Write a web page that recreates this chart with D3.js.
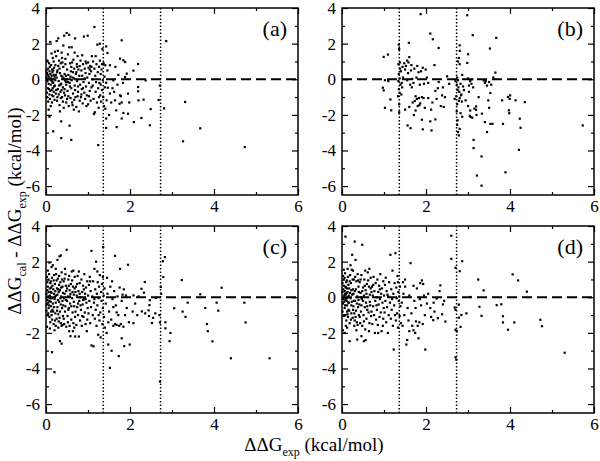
<!DOCTYPE html>
<html>
<head>
<meta charset="utf-8">
<script src="https://cdn.jsdelivr.net/npm/d3@7"></script>
<style>
  body { margin: 0; background: #fff; }
  svg { display: block; }
  svg text { font-family: 'Liberation Serif', 'Times New Roman', Times, 'DejaVu Serif', serif; fill: #000; }
</style>
</head>
<body>
<div id="chart"></div>
<script>
// tick values and reference lines
const xTicks = [0, 2, 4, 6];
const xMinor = [1, 3, 5];
const yTicks = [-6, -4, -2, 0, 2, 4];
const yMinor = [-5, -3, -1, 1, 3];
const refLines = [1.364, 2.728];
const panelLabels = ['(a)', '(b)', '(c)', '(d)'];

// [ΔΔG_exp, ΔΔG_cal - ΔΔG_exp]
const pointsA = [
  [0.02,0.35],[0.03,-0.1],[0.05,0.6],[0.04,-0.5],[0.06,0.15],[0.08,-0.85],[0.07,0.9],[0.1,0.3],[0.11,-0.3],[0.09,-1.1],
  [0.12,0.05],[0.13,-0.6],[0.14,0.55],[0.15,-0.15],[0.16,1.2],[0.17,-0.95],[0.18,0.25],[0.19,-0.4],[0.02,-0.75],[0.01,0.1],
  [0.05,-1.25],[0.06,-0.25],[0.08,0.45],[0.1,-0.65],[0.12,0.8],[0.14,-1.3],[0.16,0.0],[0.18,-0.7],[0.03,1.05],[0.04,0.25],
  [0.09,0.7],[0.11,-1.5],[0.13,1.45],[0.15,0.4],[0.17,-0.2],[0.19,0.65],[0.02,-1.0],[0.07,-0.55],[0.1,2.1],[0.12,-0.05],
  [0.14,-0.9],[0.18,1.0],[0.06,-1.7],[0.16,-0.5],[0.2,-1.15],[0.01,0.5],[0.08,0.05],[0.13,0.2],[0.17,0.5],[0.2,0.15],
  [0.21,-0.35],[0.22,0.8],[0.23,-0.8],[0.24,1.3],[0.25,0.1],[0.26,-1.2],[0.27,0.5],[0.28,-0.55],[0.29,2.3],[0.3,-0.1],
  [0.31,1.05],[0.32,-1.45],[0.33,0.35],[0.34,-0.7],[0.35,0.9],[0.36,-0.25],[0.37,1.5],[0.38,-1.0],[0.39,0.15],[0.4,-0.45],
  [0.41,0.7],[0.42,-1.6],[0.43,2.45],[0.44,0.3],[0.45,-0.9],[0.46,1.15],[0.47,-0.15],[0.48,-1.3],[0.49,2.6],[0.5,0.55],
  [0.22,-0.05],[0.24,-0.6],[0.26,0.4],[0.28,1.6],[0.3,-0.85],[0.32,0.6],[0.34,-0.3],[0.36,0.2],[0.38,1.2],[0.4,-1.25],
  [0.42,0.05],[0.44,-0.55],[0.46,0.85],[0.48,-0.3],[0.23,0.25],[0.27,-1.0],[0.31,-0.35],[0.35,-1.05],[0.39,0.95],[0.43,-0.75],
  [0.47,0.2],[0.25,2.15],[0.33,-1.8],[0.37,-0.6],[0.41,1.9],[0.45,-0.05],[0.29,0.75],[0.21,1.55],[0.5,-1.1],[0.49,0.0],
  [0.51,-0.65],[0.52,1.4],[0.53,0.25],[0.54,-1.5],[0.55,2.5],[0.56,-0.2],[0.57,0.9],[0.58,-1.05],[0.59,0.45],[0.6,-0.5],
  [0.61,1.8],[0.62,-1.3],[0.63,0.1],[0.64,-0.8],[0.65,1.1],[0.66,-1.7],[0.67,0.6],[0.68,-0.35],[0.69,2.3],[0.7,-1.0],
  [0.71,0.3],[0.72,-1.55],[0.73,0.85],[0.74,-0.1],[0.75,1.3],[0.76,-0.7],[0.77,0.55],[0.78,-1.8],[0.79,0.2],[0.8,-1.2],
  [0.53,-0.95],[0.57,-0.4],[0.6,0.7],[0.63,-1.45],[0.66,0.05],[0.69,-0.6],[0.72,0.4],[0.75,-0.95],[0.55,1.8],[0.62,0.95],
  [0.68,1.5],[0.74,0.7],[0.52,-0.15],[0.58,0.15],[0.64,0.4],[0.7,0.0],[0.76,-0.4],[0.8,0.75],[0.61,-0.05],[0.67,-1.15],
  [0.81,-0.3],[0.82,1.05],[0.83,-1.0],[0.84,0.5],[0.85,-0.55],[0.86,0.2],[0.87,-1.35],[0.88,0.85],[0.89,-0.15],[0.9,2.4],
  [0.91,-0.75],[0.92,0.6],[0.93,-1.1],[0.94,0.35],[0.95,-0.4],[0.96,0.9],[0.97,-0.9],[0.98,0.1],[0.99,2.45],[1.0,-1.4],
  [1.01,0.65],[1.02,-0.2],[1.03,0.3],[1.04,-0.65],[1.05,0.75],[1.06,-1.2],[1.07,0.45],[1.08,-0.45],[1.09,1.3],[1.1,0.0],
  [0.84,-0.85],[0.88,-0.5],[0.92,0.05],[0.96,-1.5],[1.0,0.95],[1.04,0.55],[0.86,1.35],[0.94,1.0],[1.02,-0.95],[1.08,0.7],
  [1.11,-0.35],[1.12,1.0],[1.13,-1.1],[1.15,0.6],[1.16,-1.85],[1.17,0.2],[1.18,-0.7],[1.2,0.85],[1.21,-1.3],[1.22,1.95],
  [1.23,0.4],[1.24,-0.5],[1.25,-1.6],[1.26,0.7],[1.27,-0.2],[1.28,1.05],[1.29,-0.9],[1.3,0.3],[1.31,-1.25],[1.32,0.55],
  [1.33,-0.6],[1.34,1.7],[1.35,-0.05],[1.36,-1.0],[1.37,0.9],[1.38,-1.5],[1.39,0.15],[1.14,-1.95],[1.19,-0.15],[1.26,-1.0],
  [1.3,-0.3],[1.33,0.85],[1.18,1.3],[1.28,2.0],[1.4,-0.45],[1.15,2.94],
  [1.41,0.79],[1.43,1.85],[1.46,1.48],[1.46,0.5],[1.43,-0.19],[1.47,-0.47],[1.44,-1.18],[1.41,-1.65],[1.43,-2.2],[1.52,0.79],
  [1.6,-0.06],[1.64,-1.18],[1.67,-1.74],[1.75,-1.37],[1.76,-0.9],[1.76,1.16],[1.84,1.07],[1.88,0.97],[1.88,0.13],[1.92,0.32],
  [1.84,-1.89],[1.52,-0.8],[1.58,-0.5],[1.55,-1.3],[1.62,-0.7],[1.7,-0.3],[1.78,-0.95],[1.8,-1.3],[1.72,0.25],[1.95,-0.8],
  [1.5,-2.0],[1.65,0.7],[1.83,-0.2],[1.98,-1.3],
  [2.86,2.15],[3.31,-1.27],[3.67,-2.75],[3.26,-3.48],[4.73,-3.8],[0.56,-2.6],[0.36,-2.36],[0.36,-3.3],[0.6,-3.4],[0.17,-2.92],
  [0.08,-2.1],[1.24,-3.69],[1.43,-2.73],[2.81,-1.63],[2.68,-1.16],[2.47,-2.58],[2.27,-2.17],[2.09,-2.4],[2.49,-1.67],[2.2,-1.18],
  [2.32,-1.14],[2.37,-0.06],[2.19,0.86],[2.19,-0.43],[2.19,-0.67],[2.08,0.49],[1.95,-1.93],[1.8,-2.2],[1.8,2.19],[1.68,-2.68],
  [2.71,-0.35]
];

const pointsB = [
  [0.99,1.26],[1.09,1.39],[0.97,-0.47],[0.99,-0.62],[1.02,-1.6],[1.15,-1.13],[1.17,-1.74],[1.02,-0.05],[1.1,-0.1],
  [1.35,1.95],[1.36,1.7],[1.34,0.85],[1.38,0.6],[1.35,0.3],[1.37,0.05],[1.34,-0.1],[1.39,-0.3],[1.35,-0.55],[1.37,-0.75],
  [1.33,-0.95],[1.36,-1.4],[1.38,0.95],[1.4,0.45],[1.42,-0.2],[1.41,-0.85],[1.44,0.7],[1.36,-1.85],[1.45,0.1],[1.43,-0.45],
  [1.48,0.9],[1.5,0.55],[1.52,0.75],[1.55,-0.05],[1.57,0.35],[1.59,2.05],[1.6,1.25],[1.62,-0.3],[1.64,0.5],[1.65,0.8],
  [1.67,0.02],[1.7,-0.2],[1.72,0.6],[1.73,-1.22],[1.75,-0.95],[1.77,0.1],[1.78,-1.1],[1.8,-1.5],[1.82,0.4],[1.85,-0.3],
  [1.86,-1.35],[1.88,0.45],[1.9,-1.0],[1.92,0.65],[1.95,-0.25],[1.97,-1.6],[1.56,-2.59],[1.63,-2.74],[1.9,-2.27],[1.92,-2.81],
  [1.5,-1.7],[1.6,-1.55],[1.68,-1.3],[1.75,-1.75],[1.83,-1.05],[1.58,0.95],[1.66,-0.45],[1.71,-2.0],[1.87,3.66],[1.79,0.75],
  [1.55,1.05],[1.84,-1.45],[1.94,-1.05],[1.99,0.55],
  [2.1,2.57],[2.16,2.25],[2.3,1.76],[2.2,0.8],[2.05,-0.2],[2.1,-2.36],[2.13,-2.87],[2.22,-2.25],[2.15,-1.3],[2.25,-1.1],
  [2.05,-1.05],[2.28,-0.5],[2.35,-1.5],[2.4,-0.45],[2.42,-1.55],[2.5,0.17],[2.45,-1.0],[2.12,-1.7],[2.3,-0.15],[2.55,-0.25],
  [2.38,-0.9],[2.22,-0.65],[2.02,0.1],
  [2.8,1.91],[2.8,1.6],[2.78,1.2],[2.76,1.0],[2.8,0.85],[2.74,0.1],[2.76,-0.05],[2.73,-0.3],[2.77,-0.45],[2.75,-0.6],
  [2.79,-0.7],[2.72,-0.95],[2.78,-1.2],[2.74,-1.4],[2.8,-1.05],[2.83,-0.9],[2.85,-1.25],[2.73,-1.8],[2.75,-2.3],[2.74,-2.55],
  [2.76,-2.96],[2.78,-3.15],[2.8,-2.78],[2.82,-1.9],[2.86,-2.1],[2.88,-0.4],[2.9,-0.6],[2.7,-0.1],[2.82,-0.25],[2.68,-1.1],
  [2.86,0.25],[2.84,-0.85],
  [2.98,3.6],[3.11,2.48],[2.98,0.92],[3.0,1.41],[3.0,0.05],[3.05,-0.1],[3.08,-0.25],[3.1,0.0],[2.94,-1.18],[3.0,-1.5],
  [3.04,-2.05],[3.06,-2.12],[3.1,-2.15],[3.02,-0.7],[3.05,-1.75],[3.15,-1.65],[3.19,-1.52],[3.19,-1.71],[3.12,-0.45],[3.13,-3.4],
  [3.13,-3.86],[3.21,-5.4],[3.32,-5.97],[3.32,-4.33],[3.33,-1.93],[3.25,-1.0],[3.37,-0.06],[3.4,-0.2],[3.45,-0.35],[3.5,-0.15],
  [3.55,-0.3],[3.42,-0.1],[3.52,1.73],[3.67,2.33],[3.65,0.38],[3.6,0.1],[3.45,-2.96],[3.53,-2.5],[3.58,-2.5],[3.48,-1.18],
  [3.53,-0.77],[3.5,-1.6],[3.4,-2.4],[3.2,-2.0],[3.02,-0.35],
  [3.81,-1.18],[3.83,-2.5],[3.95,-0.99],[3.99,-1.1],[3.97,-1.74],[3.98,-1.9],[4.13,-1.18],[4.21,-3.96],[4.23,-2.21],[4.25,-2.72],
  [4.35,-1.28],[3.89,-5.22],[5.73,-2.59],[4.0,-0.9]
];

const pointsC = [
  [0.01,0.2],[0.02,-0.4],[0.03,0.85],[0.04,-1.0],[0.05,0.05],[0.06,-0.6],[0.07,1.3],[0.08,-0.2],[0.09,0.5],[0.1,-1.4],
  [0.11,0.3],[0.12,-0.8],[0.13,1.7],[0.14,-0.05],[0.15,0.65],[0.02,-1.65],[0.03,0.4],[0.05,-0.3],[0.06,1.0],[0.08,-1.1],
  [0.09,0.1],[0.1,0.8],[0.12,-0.5],[0.13,0.25],[0.14,-1.25],[0.01,-0.75],[0.04,0.6],[0.07,-0.45],[0.08,1.95],[0.11,-0.25],
  [0.15,-0.7],[0.02,1.15],[0.05,-0.9],[0.09,-1.75],[0.12,0.55],[0.14,1.1],[0.03,-0.15],[0.06,0.3],[0.1,-0.05],[0.13,-1.0],
  [0.08,2.89],[0.14,-3.08],[0.2,-4.2],[0.04,1.5],[0.11,0.9],
  [0.16,-0.35],[0.17,0.45],[0.18,-1.5],[0.19,1.25],[0.2,-0.1],[0.21,0.75],[0.22,-0.9],[0.23,1.6],[0.24,0.1],[0.25,-1.2],
  [0.26,0.5],[0.27,-0.55],[0.28,1.05],[0.29,-1.7],[0.3,0.3],[0.31,-0.25],[0.32,2.3],[0.33,-0.8],[0.34,0.85],[0.35,-1.45],
  [0.36,0.05],[0.37,1.4],[0.38,-0.6],[0.39,0.6],[0.4,-1.05],[0.17,-0.8],[0.19,0.2],[0.21,-1.3],[0.23,-0.3],[0.25,0.95],
  [0.27,0.15],[0.29,-0.95],[0.31,1.2],[0.33,0.4],[0.35,-0.4],[0.37,-1.6],[0.39,-0.2],[0.18,0.95],[0.22,0.35],[0.26,-0.75],
  [0.3,-1.35],[0.34,-0.05],[0.38,1.0],[0.2,-1.85],[0.24,1.3],[0.28,-0.15],[0.32,-1.15],[0.36,0.55],[0.4,0.25],[0.33,-2.46],
  [0.37,-2.6],[0.16,1.8],[0.19,-0.55],[0.27,2.1],[0.35,2.35],[0.23,-1.6],[0.31,0.7],[0.39,-1.55],[0.21,0.05],[0.29,0.45],
  [0.41,-0.45],[0.42,0.9],[0.43,-1.5],[0.44,0.2],[0.45,-0.8],[0.46,1.3],[0.47,-0.15],[0.48,-1.65],[0.49,2.67],[0.5,0.5],
  [0.51,-1.05],[0.52,0.05],[0.53,1.0],[0.54,-0.6],[0.55,-1.9],[0.56,0.4],[0.57,-0.35],[0.58,-2.18],[0.59,0.75],[0.6,-1.25],
  [0.61,1.45],[0.62,-0.05],[0.63,-0.85],[0.64,0.6],[0.65,-1.45],[0.66,0.15],[0.67,-0.5],[0.68,1.15],[0.69,-1.1],[0.7,0.3],
  [0.42,-1.2],[0.44,1.05],[0.46,-0.5],[0.48,0.35],[0.5,-0.2],[0.52,-1.4],[0.54,0.65],[0.56,-1.6],[0.58,0.2],[0.6,-0.5],
  [0.62,0.95],[0.64,-1.9],[0.66,-0.25],[0.68,0.5],[0.7,-0.8],[0.45,1.6],[0.55,1.2],[0.65,1.5],[0.47,0.65],[0.57,0.05],
  [0.67,-1.7],[0.43,-0.05],[0.53,-0.7],[0.63,0.3],[0.69,-2.2],
  [0.71,0.6],[0.72,-1.55],[0.73,0.1],[0.74,-0.55],[0.75,1.2],[0.76,-1.0],[0.77,0.35],[0.78,-2.2],[0.79,-0.2],[0.8,0.8],
  [0.81,-1.3],[0.82,0.0],[0.83,-0.7],[0.84,1.0],[0.85,-1.6],[0.86,0.3],[0.87,-0.4],[0.88,0.65],[0.89,-1.1],[0.9,-0.1],
  [0.91,1.3],[0.92,-0.85],[0.93,0.2],[0.94,-1.5],[0.95,0.55],[0.96,-0.3],[0.97,-1.9],[0.98,0.9],[0.99,-0.6],[1.0,0.1],
  [0.74,0.75],[0.78,1.45],[0.82,-0.45],[0.86,-1.05],[0.9,0.45],[0.94,-0.1],[0.98,-1.25],[0.76,-0.35],[0.8,0.2],[0.88,-0.15],
  [1.01,-0.9],[1.02,0.7],[1.03,-0.2],[1.04,1.15],[1.05,-1.45],[1.06,0.35],[1.07,-0.55],[1.08,2.61],[1.08,-2.7],[1.1,0.05],
  [1.11,-1.0],[1.12,0.9],[1.13,-2.75],[1.14,-0.3],[1.15,1.6],[1.16,-1.2],[1.17,0.45],[1.18,-0.7],[1.19,2.0],[1.2,-1.6],
  [1.21,0.2],[1.22,-0.45],[1.23,0.85],[1.24,-2.1],[1.25,-0.05],[1.26,0.6],[1.27,-1.3],[1.28,1.25],[1.29,-0.85],[1.3,-2.25],
  [1.31,0.3],[1.32,-0.2],[1.33,0.75],[1.34,-1.5],[1.35,-0.6],[1.36,2.82],[1.37,0.1],[1.38,-1.1],[1.39,0.5],[1.4,-1.7],
  [1.05,0.9],[1.15,-0.1],[1.25,-1.0],[1.35,1.15],[1.22,1.45],
  [1.42,-0.35],[1.44,-2.0],[1.46,0.2],[1.48,-2.65],[1.5,-0.8],[1.52,-3.96],[1.53,0.6],[1.55,-1.25],[1.56,-3.0],[1.58,-0.1],
  [1.6,-1.6],[1.62,0.35],[1.64,2.33],[1.64,-1.5],[1.66,-0.45],[1.68,-1.55],[1.7,0.05],[1.72,-1.0],[1.73,-3.3],[1.74,-1.6],
  [1.76,1.6],[1.78,-1.5],[1.8,-0.2],[1.82,0.15],[1.84,-1.65],[1.86,-2.74],[1.88,-1.0],[1.9,0.1],[1.92,-0.6],[1.95,1.83],
  [1.97,-1.4],[1.99,-2.65],[1.45,1.1],[1.57,0.9],[1.68,-0.85],[1.8,-2.3],[1.85,0.45],[1.48,-1.4],[1.6,-0.55],[1.75,0.55],
  [2.08,0.11],[2.06,-0.8],[2.08,-1.45],[2.17,-1.0],[2.28,-0.79],[2.36,-0.9],[2.45,-1.05],[2.6,-0.9],[2.7,-1.0],[2.27,0.48],
  [2.33,0.26],[2.35,0.86],[2.47,-0.16],[2.46,-0.44],[2.44,-0.73],[2.52,-1.44],[2.61,-0.03],[2.71,-1.41],[2.84,-1.4],[2.84,-1.74],
  [2.96,-2.0],[2.71,-4.73],[2.83,2.26],[2.78,2.03],[2.79,1.14],[2.73,0.58],[2.74,0.2],[3.05,-0.61],[3.25,-0.8],[3.32,-1.1],
  [3.37,-0.3],[3.23,0.97],[3.67,0.17],[3.79,-0.6],[3.83,-1.5],[3.85,-1.9],[3.96,-2.47],[4.06,-0.3],[4.1,-0.75],[4.18,0.54],
  [4.4,-3.42],[4.72,-0.3],[4.75,-1.41],[5.32,-3.42],[2.94,-2.46],[2.2,0.05],[2.12,-0.35],[2.55,-1.15]
];

const pointsD = [
  [0.01,0.3],[0.02,-0.35],[0.03,1.0],[0.04,-1.05],[0.05,0.1],[0.06,-0.6],[0.07,1.35],[0.08,-0.15],[0.09,0.55],[0.1,-1.3],
  [0.11,0.25],[0.12,-0.8],[0.13,1.6],[0.14,0.0],[0.15,0.7],[0.02,-1.85],[0.03,0.45],[0.05,-0.25],[0.06,1.1],[0.08,-1.0],
  [0.09,0.15],[0.1,0.85],[0.12,-0.45],[0.13,0.3],[0.14,-1.1],[0.01,-0.8],[0.04,0.65],[0.07,-0.45],[0.08,3.41],[0.11,-0.2],
  [0.15,-0.7],[0.02,1.2],[0.05,-1.0],[0.09,-1.6],[0.12,0.5],[0.14,1.15],[0.03,-0.1],[0.06,0.35],[0.1,-0.05],[0.13,-0.95],
  [0.06,-2.0],[0.04,1.55],[0.11,0.95],[0.07,0.2],[0.12,-1.7],[0.01,0.8],[0.15,-0.3],[0.08,0.6],
  [0.16,-0.3],[0.17,0.5],[0.18,-1.45],[0.19,1.25],[0.2,-0.05],[0.21,0.8],[0.22,-0.9],[0.23,1.55],[0.24,0.15],[0.25,-1.15],
  [0.26,0.45],[0.27,-0.5],[0.28,1.0],[0.29,-1.6],[0.3,0.35],[0.31,-0.2],[0.32,2.1],[0.33,-0.75],[0.34,0.9],[0.35,-1.4],
  [0.36,0.05],[0.37,1.3],[0.38,-0.55],[0.39,0.6],[0.4,-1.0],[0.17,-0.75],[0.19,0.25],[0.21,-1.25],[0.23,-0.25],[0.25,1.0],
  [0.27,0.2],[0.29,-0.9],[0.31,1.15],[0.33,0.45],[0.35,-0.35],[0.37,-1.55],[0.39,-0.15],[0.18,0.9],[0.22,0.4],[0.26,-0.7],
  [0.3,-1.3],[0.34,0.0],[0.38,0.95],[0.24,2.39],[0.3,3.13],[0.36,-2.37],[0.18,-2.46],[0.2,1.8],[0.28,-0.2],[0.32,-1.1],
  [0.4,0.3],[0.26,1.5],[0.34,-1.85],[0.22,-0.45],[0.16,0.1],
  [0.41,-0.4],[0.42,0.85],[0.43,-1.45],[0.44,0.25],[0.45,-0.8],[0.46,1.25],[0.47,-0.1],[0.48,2.95],[0.48,-1.6],[0.5,0.55],
  [0.51,-1.0],[0.52,0.1],[0.53,1.0],[0.54,-0.55],[0.55,-1.8],[0.56,0.4],[0.57,-0.3],[0.58,-1.2],[0.59,0.75],[0.6,-0.7],
  [0.61,1.4],[0.62,0.0],[0.63,-0.85],[0.64,0.6],[0.65,-1.45],[0.66,0.15],[0.67,-0.45],[0.68,1.1],[0.69,-1.05],[0.7,0.3],
  [0.42,-1.1],[0.44,1.0],[0.46,-0.45],[0.48,0.35],[0.5,-0.2],[0.52,-1.35],[0.54,0.65],[0.56,-2.4],[0.58,0.2],[0.6,-0.5],
  [0.62,0.95],[0.64,-1.9],[0.66,-0.25],[0.68,0.5],[0.7,-0.8],[0.46,-2.18],[0.52,-2.46],[0.55,1.5],[0.65,1.6],[0.45,0.0],
  [0.71,0.6],[0.72,-1.5],[0.73,0.1],[0.74,-0.5],[0.75,1.15],[0.76,-1.0],[0.77,0.35],[0.78,-2.0],[0.79,-0.2],[0.8,0.8],
  [0.81,-1.25],[0.82,0.0],[0.83,-0.7],[0.84,1.0],[0.85,-1.55],[0.86,0.3],[0.87,-0.4],[0.88,0.65],[0.89,-1.1],[0.9,-0.1],
  [0.91,1.3],[0.92,-0.85],[0.93,0.2],[0.94,-1.9],[0.95,0.5],[0.96,-0.3],[0.97,-1.6],[0.98,0.9],[0.99,-0.6],[1.0,0.1],
  [0.74,0.7],[0.82,-0.45],[0.9,0.45],[0.98,-1.2],[0.86,-2.0],
  [1.01,-0.85],[1.02,0.7],[1.03,-0.2],[1.04,1.1],[1.05,-1.4],[1.06,0.35],[1.07,-0.55],[1.09,-2.0],[1.1,0.05],[1.11,-1.0],
  [1.12,0.85],[1.14,-0.3],[1.15,2.39],[1.16,-1.2],[1.17,0.45],[1.18,-0.7],[1.2,1.5],[1.21,-1.6],[1.22,0.2],[1.23,-2.93],
  [1.24,-0.45],[1.25,0.8],[1.27,2.48],[1.28,-1.3],[1.29,0.55],[1.3,-0.05],[1.31,-0.9],[1.32,1.2],[1.33,-1.7],[1.34,0.3],
  [1.35,-0.2],[1.36,0.05],[1.37,-1.05],[1.38,0.6],[1.39,-0.5],[1.4,-1.45],[1.08,0.15],[1.19,-0.1],[1.26,-1.0],[1.33,0.85],
  [1.42,-0.3],[1.44,-1.6],[1.46,0.2],[1.48,-1.0],[1.5,0.6],[1.53,-2.65],[1.55,-2.4],[1.56,-0.6],[1.58,-1.3],[1.6,0.1],
  [1.63,1.92],[1.65,-0.9],[1.67,-1.6],[1.7,-1.85],[1.72,-0.2],[1.74,-2.0],[1.76,-1.35],[1.78,0.5],[1.8,-1.6],[1.82,-2.3],
  [1.84,-1.4],[1.86,0.8],[1.88,-0.45],[1.9,0.95],[1.92,-1.5],[1.95,0.1],[1.98,-2.93],[1.97,-1.0],[1.5,1.0],[1.6,-1.9],
  [1.7,0.65],[1.45,0.85],[1.85,-0.1],[1.75,-0.6],[1.93,0.75],
  [2.6,3.46],[2.6,2.16],[2.7,1.66],[2.8,1.47],[2.86,2.03],[3.24,1.0],[3.37,0.39],[3.27,-0.53],[3.32,-1.04],[3.05,0.02],
  [3.68,-0.44],[3.79,-0.39],[3.83,-1.06],[3.83,-1.41],[3.95,-1.82],[4.1,-1.41],[4.06,1.29],[4.19,0.95],[4.4,0.32],[4.72,-1.26],
  [4.76,-1.62],[5.3,-3.11],[2.68,-0.57],[2.7,-0.7],[2.7,-1.82],[2.73,-1.9],[2.7,-3.37],[2.72,-3.5],[2.82,-1.66],[2.78,-1.14],
  [2.84,-0.99],[2.96,-0.9],[2.32,0.35],[2.34,0.67],[2.25,-0.07],[2.43,-0.2],[2.4,-0.4],[2.38,-0.95],[2.46,-1.36],[2.18,-0.3],
  [2.28,-1.17],[2.17,-1.28],[2.05,0.2],[2.1,-0.6],[2.12,-1.1],[2.2,-0.8],[2.02,-0.35],[2.78,-0.41]
];

const width = 600, height = 461;
const pw = 252, ph = 187;
const serif = "'Liberation Serif', 'Times New Roman', Times, 'DejaVu Serif', serif";

// panel origins (left, top)
const panels = [
  {pts: pointsA, x: 46, y: 8},
  {pts: pointsB, x: 342, y: 8},
  {pts: pointsC, x: 46, y: 226},
  {pts: pointsD, x: 342, y: 226}
];

const x = d3.scaleLinear().domain([0, 6]).range([0, pw]);
const y = d3.scaleLinear().domain([-6.5, 4]).range([ph, 0]);

const svg = d3.select('#chart')
  .append('svg')
  .attr('width', width)
  .attr('height', height)
  .attr('font-family', serif);

panels.forEach((p, i) => {
  const g = svg.append('g').attr('transform', `translate(${p.x},${p.y})`);

  // reference lines
  g.selectAll('.vref')
    .data(refLines)
    .enter()
    .append('line')
    .attr('x1', d => x(d)).attr('x2', d => x(d))
    .attr('y1', 0).attr('y2', ph)
    .attr('stroke', '#000')
    .attr('stroke-width', 1.5)
    .attr('stroke-dasharray', '1.5,2');

  g.append('line')
    .attr('x1', 0).attr('x2', pw)
    .attr('y1', y(0)).attr('y2', y(0))
    .attr('stroke', '#000')
    .attr('stroke-width', 2)
    .attr('stroke-dasharray', '10,5');

  // points
  g.selectAll('.pt')
    .data(p.pts)
    .enter()
    .append('rect')
    .attr('x', d => x(d[0]) - 1)
    .attr('y', d => y(d[1]) - 1)
    .attr('width', 2.2)
    .attr('height', 2.2)
    .attr('fill', '#000');

  // axes, ticks pointing inward
  const fmt = d => String(d);
  g.append('g')
    .call(d3.axisLeft(y).tickValues(yTicks).tickSizeInner(-6).tickSizeOuter(0).tickPadding(6).tickFormat(fmt));
  g.append('g')
    .call(d3.axisLeft(y).tickValues(yMinor).tickSizeInner(-3).tickSizeOuter(0).tickFormat(''));
  g.append('g').attr('transform', `translate(${pw},0)`)
    .call(d3.axisRight(y).tickValues(yTicks).tickSizeInner(-6).tickSizeOuter(0).tickFormat(''));
  g.append('g').attr('transform', `translate(${pw},0)`)
    .call(d3.axisRight(y).tickValues(yMinor).tickSizeInner(-3).tickSizeOuter(0).tickFormat(''));
  g.append('g').attr('transform', `translate(0,${ph})`)
    .call(d3.axisBottom(x).tickValues(xTicks).tickSizeInner(-6).tickSizeOuter(0).tickPadding(5).tickFormat(fmt));
  g.append('g').attr('transform', `translate(0,${ph})`)
    .call(d3.axisBottom(x).tickValues(xMinor).tickSizeInner(-3).tickSizeOuter(0).tickFormat(''));
  g.append('g')
    .call(d3.axisTop(x).tickValues(xTicks).tickSizeInner(-6).tickSizeOuter(0).tickFormat(''));
  g.append('g')
    .call(d3.axisTop(x).tickValues(xMinor).tickSizeInner(-3).tickSizeOuter(0).tickFormat(''));

  g.selectAll('.domain').remove();
  g.selectAll('g').attr('font-family', serif).attr('font-size', 17);
  g.selectAll('.tick line').attr('stroke', '#000').attr('stroke-width', 1.2);
  g.selectAll('.tick text').attr('fill', '#000');

  g.append('rect')
    .attr('width', pw).attr('height', ph)
    .attr('fill', 'none')
    .attr('stroke', '#000')
    .attr('stroke-width', 1.5);

  g.append('text')
    .attr('x', pw - 11)
    .attr('y', 28)
    .attr('text-anchor', 'end')
    .attr('font-size', 22)
    .text(panelLabels[i]);
});

// x axis title
const xt = svg.append('text')
  .attr('x', 314)
  .attr('y', 451)
  .attr('text-anchor', 'middle')
  .attr('font-size', 19);
xt.append('tspan').text('ΔΔG');
xt.append('tspan').attr('dy', 5).attr('font-size', 12).text('exp');
xt.append('tspan').attr('dy', -5).text(' (kcal/mol)');

// y axis title
const yt = svg.append('text')
  .attr('transform', 'translate(21,211) rotate(-90)')
  .attr('text-anchor', 'middle')
  .attr('font-size', 19);
yt.append('tspan').text('ΔΔG');
yt.append('tspan').attr('dy', 5).attr('font-size', 12).text('cal');
yt.append('tspan').attr('dy', -5).text(' - ΔΔG');
yt.append('tspan').attr('dy', 5).attr('font-size', 12).text('exp');
yt.append('tspan').attr('dy', -5).text(' (kcal/mol)');
</script>
</body>
</html>
